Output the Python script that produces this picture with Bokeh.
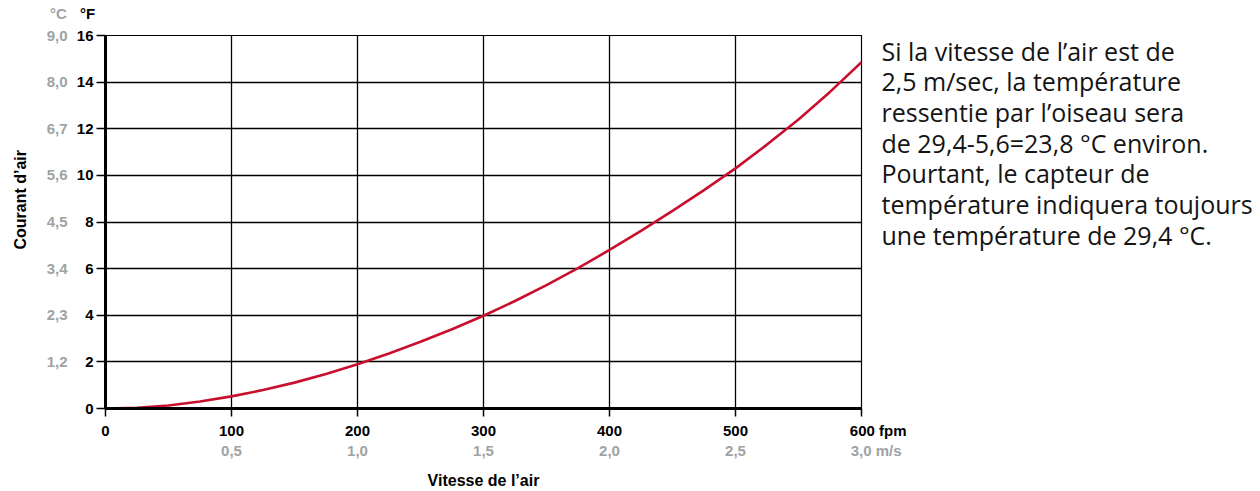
import math
from bokeh.plotting import figure
from bokeh.models import Range1d, FixedTicker, LinearAxis, Div
from bokeh.layouts import column
from bokeh.embed import file_html
from bokeh.resources import INLINE

# ---- data ----
speed_fpm = [0, 25, 50, 75, 100, 125, 150, 175, 200, 225, 250, 275, 300,
             325, 350, 375, 400, 425, 450, 475, 500, 525, 550, 575, 600]
cooling_f = [0.0, 0.03, 0.13, 0.30, 0.52, 0.79, 1.11, 1.48, 1.90, 2.36, 2.86, 3.40, 3.98,
             4.61, 5.29, 6.02, 6.80, 7.62, 8.48, 9.37, 10.30, 11.32, 12.40, 13.58, 14.86]

x_ticks = [0, 100, 200, 300, 400, 500, 600]
x_tick_fpm = ["0", "100", "200", "300", "400", "500", "600 fpm"]
x_tick_ms = ["", "0,5", "1,0", "1,5", "2,0", "2,5", "3,0 m/s"]
y_ticks = [0, 2, 4, 6, 8, 10, 12, 14, 16]
y_tick_c = ["", "1,2", "2,3", "3,4", "4,5", "5,6", "6,7", "8,0", "9,0"]

x_title = "Vitesse de l\u2019air"
y_title = "Courant d\u2019air"
unit_c, unit_f = "°C", "°F"
note_lines = [
    "Si la vitesse de l\u2019air est de",
    "2,5 m/sec, la température",
    "ressentie par l\u2019oiseau sera",
    "de 29,4-5,6=23,8 °C environ.",
    "Pourtant, le capteur de",
    "température indiquera toujours",
    "une température de 29,4 °C.",
]

FONT = "Liberation Sans"
GRAY = "#9ea3a3"
RED = "#c8102e"
NB = "\u00a0"
TICK_FS = "15px"
TITLE_FS = "16px"

HEAD_H = 21
FIG_W, FIG_H = 1260, 491 - HEAD_H
F_LEFT, F_RIGHT, F_TOP, F_BOTTOM = 105, 861, 35 - HEAD_H, 408 - HEAD_H

p = figure(width=FIG_W, height=FIG_H, output_backend="svg", toolbar_location=None,
           x_range=Range1d(0, 600), y_range=Range1d(0, 16),
           min_border_left=F_LEFT, min_border_right=FIG_W - F_RIGHT,
           min_border_top=F_TOP, min_border_bottom=FIG_H - F_BOTTOM)
p.outline_line_color = "black"
p.outline_line_width = 1.2

# primary axes (°F, fpm)
p.xaxis.ticker = FixedTicker(ticks=x_ticks)
p.yaxis.ticker = FixedTicker(ticks=y_ticks)
def pad_last(lbls, n):
    out = list(lbls)
    out[-1] = NB * n + out[-1]
    return out
p.xaxis.major_label_overrides = dict(zip(x_ticks, pad_last(x_tick_fpm, 8)))
for ax in (p.xaxis[0], p.yaxis[0]):
    ax.axis_line_width = 3
    ax.axis_line_color = "black"
    ax.major_tick_line_width = 1.5
    ax.major_tick_line_color = "black"
    ax.major_tick_in = 0
    ax.minor_tick_line_color = None
    ax.major_label_text_font = FONT
    ax.major_label_text_font_style = "bold"
    ax.major_label_text_font_size = TICK_FS
    ax.major_label_text_color = "black"
p.xaxis.major_tick_out = 8
p.yaxis.major_tick_out = 9
p.xaxis.major_label_standoff = 5
p.yaxis.major_label_standoff = 3

# secondary axes (°C, m/s)
ax_c = LinearAxis(ticker=FixedTicker(ticks=y_ticks[1:]),
                  major_label_overrides=dict(zip(y_ticks[1:], y_tick_c[1:])))
ax_ms = LinearAxis(ticker=FixedTicker(ticks=x_ticks[1:]),
                   major_label_overrides=dict(zip(x_ticks[1:], pad_last(x_tick_ms[1:], 7))))
for ax in (ax_c, ax_ms):
    ax.axis_line_color = None
    ax.major_tick_line_color = None
    ax.minor_tick_line_color = None
    ax.major_tick_out = 0
    ax.major_tick_in = 0
    ax.major_label_text_font = FONT
    ax.major_label_text_font_style = "bold"
    ax.major_label_text_font_size = TICK_FS
    ax.major_label_text_color = GRAY
    ax.axis_label_text_font = FONT
    ax.axis_label_text_font_style = "bold"
    ax.axis_label_text_font_size = TITLE_FS
    ax.axis_label_text_color = "black"
ax_c.major_label_standoff = 6
ax_ms.major_label_standoff = 0
ax_c.axis_label = NB * 10 + y_title
ax_c.axis_label_standoff = 15
ax_ms.axis_label = x_title
ax_ms.axis_label_standoff = 10
p.add_layout(ax_c, "left")
p.add_layout(ax_ms, "below")

# explanatory note as right-hand labels (positions are layout only)
px_per_unit = (F_BOTTOM - F_TOP) / 16.0
note_pos = [(F_BOTTOM - (50 - HEAD_H + 30.7 * i)) / px_per_unit for i in range(len(note_lines))]
ax_note = LinearAxis(ticker=FixedTicker(ticks=note_pos),
                     major_label_overrides=dict(zip(note_pos, note_lines)))
ax_note.axis_line_color = None
ax_note.major_tick_line_color = None
ax_note.minor_tick_line_color = None
ax_note.major_tick_out = 0
ax_note.major_tick_in = 0
ax_note.major_label_standoff = 20
ax_note.major_label_text_font = "Open Sans"
ax_note.major_label_text_font_style = "normal"
ax_note.major_label_text_font_size = "25px"
ax_note.major_label_text_color = "#141414"
p.add_layout(ax_note, "right")

p.xgrid.ticker = FixedTicker(ticks=x_ticks)
p.ygrid.ticker = FixedTicker(ticks=y_ticks)
for g in (p.xgrid[0], p.ygrid[0]):
    g.grid_line_color = "black"
    g.grid_line_width = 1.3
    g.grid_line_alpha = 1.0

p.line(speed_fpm, cooling_f, line_color=RED, line_width=2.6)

header = Div(
    text=(f'<div style="position:relative;height:{HEAD_H}px;font-family:\'{FONT}\';'
          f'font-weight:bold;font-size:15px;line-height:15px;">'
          f'<span style="position:absolute;left:50px;top:6px;color:{GRAY};">{unit_c}</span>'
          f'<span style="position:absolute;left:80px;top:6px;color:black;">{unit_f}</span>'
          f'</div>'),
    width=FIG_W, height=HEAD_H, margin=0)

layout = column(header, p, spacing=0)
open("out.html", "w").write(file_html(layout, INLINE))
